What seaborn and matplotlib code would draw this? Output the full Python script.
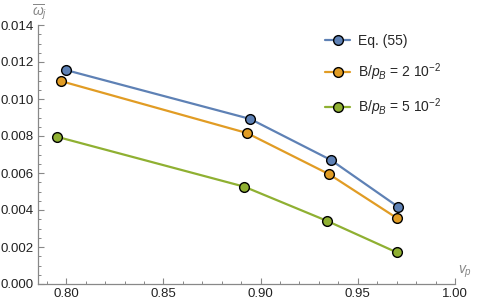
import matplotlib
matplotlib.use("Agg")
import matplotlib.pyplot as plt
import seaborn as sns
import pandas as pd
from matplotlib.lines import Line2D
from matplotlib.ticker import MultipleLocator, FormatStrFormatter

# data
series_labels = ["Eq. (55)", r"B/$p_B$ = 2 10$^{-2}$", r"B/$p_B$ = 5 10$^{-2}$"]
vp_eq55 = [0.7997, 0.8947, 0.9362, 0.9706]
w_eq55 = [0.01157, 0.00892, 0.00670, 0.00418]
vp_b2 = [0.7972, 0.8930, 0.9353, 0.9703]
w_b2 = [0.01097, 0.00816, 0.00593, 0.00355]
vp_b5 = [0.7952, 0.8916, 0.9344, 0.9700]
w_b5 = [0.00796, 0.00526, 0.00340, 0.00171]
colors = ["#5E81B5", "#E19C24", "#8FB032"]

df = pd.DataFrame({
    "vp": vp_eq55 + vp_b2 + vp_b5,
    "w": w_eq55 + w_b2 + w_b5,
    "series": [series_labels[0]] * 4 + [series_labels[1]] * 4 + [series_labels[2]] * 4,
})

sns.set_style("white")
plt.rcParams["font.family"] = ["Liberation Sans", "DejaVu Sans"]
plt.rcParams["mathtext.fontset"] = "custom"
plt.rcParams["mathtext.rm"] = "Liberation Sans"
plt.rcParams["mathtext.it"] = "Liberation Sans:italic"

fig = plt.figure(figsize=(4.8, 3.03), dpi=100)
ax = fig.add_axes([38 / 480, 19 / 303, (455 - 38) / 480, (284 - 25) / 303])

sns.lineplot(data=df, x="vp", y="w", hue="series", palette=colors, marker="o",
             markersize=7, markeredgecolor="black", markeredgewidth=1.0,
             linewidth=1.6, sort=False, legend=False, ax=ax)

ax.set_xlim(0.7855, 1.0)
ax.set_ylim(0, 0.014)
ax.xaxis.set_major_locator(MultipleLocator(0.05))
ax.xaxis.set_minor_locator(MultipleLocator(0.01))
ax.yaxis.set_major_locator(MultipleLocator(0.002))
ax.yaxis.set_minor_locator(MultipleLocator(0.0005))
ax.xaxis.set_major_formatter(FormatStrFormatter("%.2f"))
ax.yaxis.set_major_formatter(FormatStrFormatter("%.3f"))
ax.set_xlabel("")
ax.set_ylabel("")

for s in ["top", "right"]:
    ax.spines[s].set_visible(False)
for s in ["left", "bottom"]:
    ax.spines[s].set_color("#888888")
    ax.spines[s].set_linewidth(0.9)
ax.tick_params(which="both", direction="in", color="#888888", labelsize=9.5,
               labelcolor="#222222", bottom=True, left=True)
ax.tick_params(which="major", length=4, width=0.8, pad=3)
ax.tick_params(which="minor", length=2.5, width=0.7)
for lab in ax.get_xticklabels() + ax.get_yticklabels():
    lab.set_clip_on(False)

fig.text(465 / 480, 1 - 272 / 303, r"$v_p$", color="#888888", fontsize=10,
         ha="center", va="center")
fig.text(40 / 480, 1 - 12 / 303, r"$\overline{\omega}_j$", color="#888888",
         fontsize=10, ha="center", va="center")

handles = [Line2D([], [], color=c, marker="o", markersize=7,
                  markeredgecolor="black", markeredgewidth=1.0, linewidth=1.6)
           for c in colors]
fig.legend(handles, series_labels, loc="upper left",
           bbox_to_anchor=(325 / 480, 1 - 34 / 303), frameon=False,
           fontsize=10, handlelength=1.8, handletextpad=0.6,
           labelspacing=0.95, borderpad=0, borderaxespad=0)

fig.savefig("out.png", dpi=100)
